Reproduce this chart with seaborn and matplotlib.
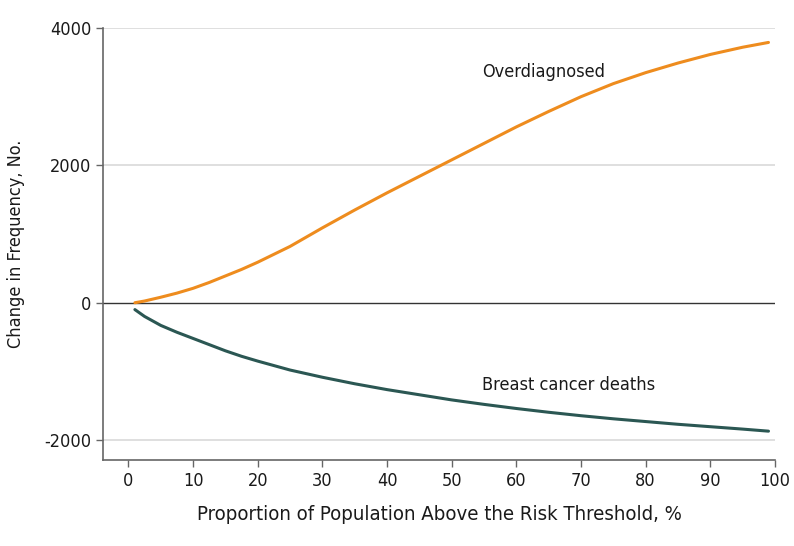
import matplotlib.pyplot as plt
import pandas as pd
import seaborn as sns

# values
proportion = [1, 2.5, 5, 7.5, 10, 12.5, 15, 17.5, 20, 25, 30, 35, 40, 45, 50,
              55, 60, 65, 70, 75, 80, 85, 90, 95, 99]
overdiagnosed = [0, 25, 80, 140, 210, 295, 390, 485, 590, 820, 1090, 1350, 1600,
                 1840, 2080, 2320, 2560, 2785, 3000, 3190, 3350, 3490, 3615, 3720, 3790]
cancer_deaths = [-100, -200, -330, -430, -520, -610, -700, -780, -850, -980, -1085,
                 -1180, -1265, -1340, -1415, -1480, -1540, -1595, -1645, -1690,
                 -1730, -1770, -1805, -1840, -1870]

x_ticks = list(range(0, 101, 10))
y_ticks = [-2000, 0, 2000, 4000]

df = pd.DataFrame({
    "proportion": proportion * 2,
    "change": overdiagnosed + cancer_deaths,
    "outcome": ["Overdiagnosed"] * len(proportion) + ["Breast cancer deaths"] * len(proportion),
})

sns.set_style("ticks")
plt.rcParams["font.family"] = ["DejaVu Sans"]
plt.rcParams["font.stretch"] = "condensed"

fig = plt.figure(figsize=(7.94, 5.46), dpi=100)
ax = fig.add_axes([0.130, 0.1575, 0.846, 0.7912])

# light horizontal grid and a dark zero line
for yv in y_ticks:
    if yv == 0:
        ax.axhline(yv, color="#333333", lw=1.0, zorder=1)
    else:
        ax.axhline(yv, color="#d9d9d9", lw=1.2, zorder=0)

sns.lineplot(data=df, x="proportion", y="change", hue="outcome",
             palette={"Overdiagnosed": "#EE8C1E", "Breast cancer deaths": "#2B5753"},
             linewidth=2.2, legend=False, ax=ax, zorder=3)

ax.text(54.7, 3360, "Overdiagnosed", fontsize=13, va="center", ha="left", color="#1a1a1a")
ax.text(54.7, -1193, "Breast cancer deaths", fontsize=13, va="center", ha="left", color="#1a1a1a")

ax.set_xlim(-3.9, 100)
ax.set_ylim(-2290, 4000)
ax.set_xticks(x_ticks)
ax.set_yticks(y_ticks)
ax.tick_params(axis="both", labelsize=13, color="#666666", length=5, width=1,
               labelcolor="#1a1a1a")
ax.set_yticklabels(["-2000", "0", "2000", "4000"])

ax.set_xlabel("Proportion of Population Above the Risk Threshold, %", fontsize=14.6,
              color="#1a1a1a", labelpad=11)
ax.set_ylabel("Change in Frequency, No.", fontsize=13, color="#1a1a1a", labelpad=14)

sns.despine(ax=ax)
for side in ["left", "bottom"]:
    ax.spines[side].set_color("#666666")
    ax.spines[side].set_linewidth(1.2)

fig.savefig("out.png", dpi=100)
